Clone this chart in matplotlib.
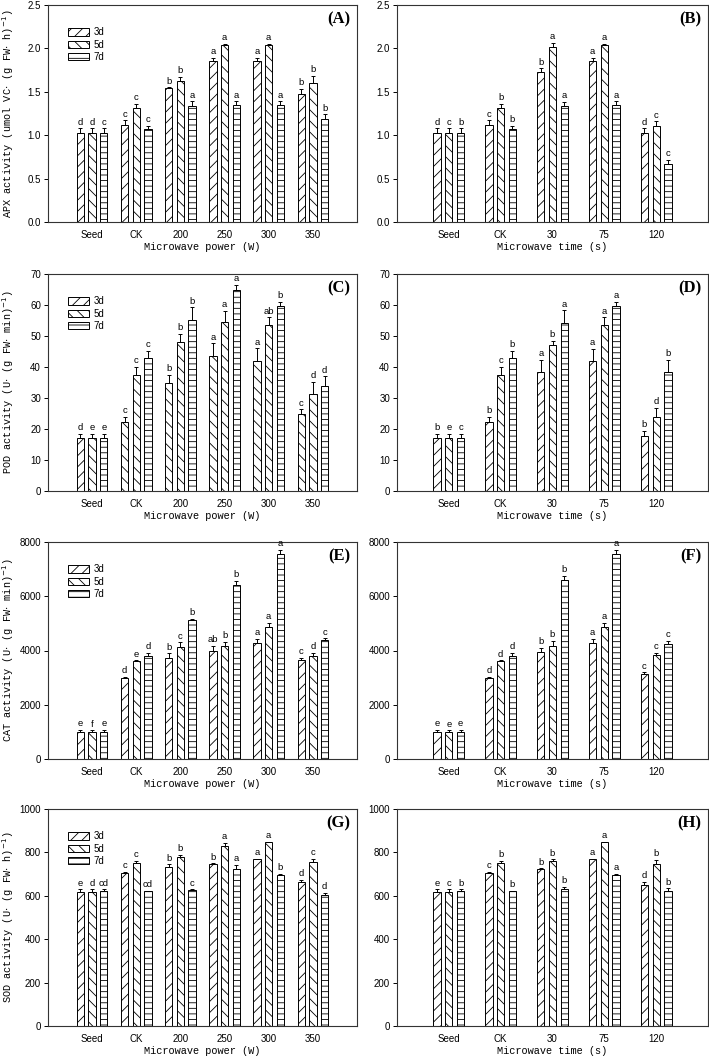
"""Antioxidant enzyme activity (APX, POD, CAT, SOD) after microwave treatment.

Left column: microwave power, right column: microwave time.
Bars are 3d / 5d / 7d after treatment, one-sided SE bars, letters = significance groups.
"""

import matplotlib
matplotlib.use("Agg")
import matplotlib.pyplot as plt
import numpy as np

plt.rcParams["hatch.linewidth"] = 0.6
plt.rcParams["font.family"] = ["Liberation Sans", "DejaVu Sans"]

days = ["3d", "5d", "7d"]
power_cats = ["Seed", "CK", "200", "250", "300", "350"]
time_cats = ["Seed", "CK", "30", "75", "120"]

# ---- APX -------------------------------------------------------------------
apx_power_mean = [[1.03, 1.12, 1.54, 1.85, 1.85, 1.48],
                  [1.03, 1.31, 1.62, 2.04, 2.04, 1.60],
                  [1.03, 1.07, 1.34, 1.35, 1.35, 1.19]]
apx_power_err = [[0.05, 0.05, 0.01, 0.04, 0.04, 0.05],
                 [0.05, 0.05, 0.05, 0.01, 0.01, 0.08],
                 [0.05, 0.04, 0.05, 0.04, 0.04, 0.05]]
apx_power_sig = [["d", "c", "b", "a", "a", "b"],
                 ["d", "c", "b", "a", "a", "b"],
                 ["c", "c", "a", "a", "a", "b"]]

apx_time_mean = [[1.03, 1.12, 1.73, 1.85, 1.02],
                 [1.03, 1.31, 2.02, 2.04, 1.11],
                 [1.03, 1.07, 1.34, 1.35, 0.67]]
apx_time_err = [[0.05, 0.05, 0.04, 0.04, 0.06],
                [0.05, 0.05, 0.04, 0.01, 0.05],
                [0.05, 0.04, 0.04, 0.04, 0.05]]
apx_time_sig = [["d", "c", "b", "a", "d"],
                ["c", "b", "a", "a", "c"],
                ["b", "b", "a", "a", "c"]]

# ---- POD -------------------------------------------------------------------
pod_power_mean = [[17.0, 22.3, 34.7, 43.6, 41.8, 25.0],
                  [17.0, 37.3, 48.0, 54.4, 53.4, 31.2],
                  [17.0, 42.8, 55.2, 65.0, 59.6, 33.8]]
pod_power_err = [[1.5, 1.5, 2.7, 4.0, 4.2, 1.3],
                 [1.5, 2.7, 2.7, 3.8, 2.6, 4.0],
                 [1.5, 2.5, 4.0, 1.5, 1.5, 3.2]]
pod_power_sig = [["d", "c", "b", "a", "a", "c"],
                 ["e", "c", "b", "a", "ab", "d"],
                 ["e", "c", "b", "a", "b", "d"]]

pod_time_mean = [[17.0, 22.3, 38.3, 41.8, 17.8],
                 [17.0, 37.3, 47.2, 53.4, 24.0],
                 [17.0, 42.8, 54.3, 59.6, 38.3]]
pod_time_err = [[1.5, 1.5, 4.0, 4.1, 1.5],
                [1.5, 2.7, 1.3, 2.6, 2.7],
                [1.5, 2.5, 4.0, 1.5, 4.0]]
pod_time_sig = [["b", "b", "a", "a", "b"],
                ["e", "c", "b", "a", "d"],
                ["c", "b", "a", "a", "b"]]

# ---- CAT -------------------------------------------------------------------
cat_power_mean = [[980, 3000, 3740, 4000, 4270, 3650],
                  [980, 3600, 4120, 4150, 4880, 3800],
                  [990, 3800, 5120, 6430, 7560, 4370]]
cat_power_err = [[100, 40, 150, 180, 150, 80],
                 [80, 40, 180, 180, 150, 100],
                 [80, 100, 40, 150, 150, 80]]
cat_power_sig = [["e", "d", "b", "ab", "a", "c"],
                 ["f", "e", "c", "b", "a", "d"],
                 ["e", "d", "b", "b", "a", "c"]]

cat_time_mean = [[980, 3000, 3940, 4270, 3150],
                 [980, 3600, 4180, 4880, 3820],
                 [990, 3800, 6600, 7560, 4230]]
cat_time_err = [[100, 40, 150, 150, 40],
                [80, 40, 180, 150, 100],
                [80, 100, 150, 150, 120]]
cat_time_sig = [["e", "d", "b", "a", "c"],
                ["e", "d", "b", "a", "c"],
                ["e", "d", "b", "a", "c"]]

# ---- SOD -------------------------------------------------------------------
sod_power_mean = [[618, 705, 733, 745, 768, 662],
                  [618, 750, 780, 828, 847, 755],
                  [620, 620, 625, 723, 697, 605]]
sod_power_err = [[12, 5, 12, 5, 2, 12],
                 [12, 12, 8, 15, 2, 15],
                 [10, 3, 5, 18, 5, 10]]
sod_power_sig = [["e", "c", "b", "b", "a", "d"],
                 ["d", "c", "b", "a", "a", "c"],
                 ["cd", "cd", "c", "a", "b", "d"]]

sod_time_mean = [[618, 705, 722, 768, 650],
                 [618, 750, 760, 847, 745],
                 [620, 620, 632, 697, 622]]
sod_time_err = [[12, 5, 4, 2, 15],
                [12, 12, 8, 2, 20],
                [10, 3, 8, 5, 12]]
sod_time_sig = [["e", "c", "b", "a", "d"],
                ["c", "b", "b", "a", "b"],
                ["b", "b", "b", "a", "b"]]

# ---- layout / style ----------------------------------------------------------
HATCHES = ["///", "\\\\\\", "---"]
MONO = ["Liberation Mono", "DejaVu Sans Mono"]
SERIF = ["Liberation Serif", "DejaVu Serif"]

FIG_W, FIG_H = 709, 1056
ROW_TOPS = [5, 274, 542, 809]
AX_H = 217
COLS = [(48, 309), (397, 311)]

panels = [
    # (row, col, tag, mean, err, sig, cats, ymax, ystep, yfmt, ylabel, xlabel)
    (0, 0, "(A)", apx_power_mean, apx_power_err, apx_power_sig, power_cats, 2.5, 0.5, "{:.1f}",
     r"APX activity (umol VC$\cdot$ (g FW$\cdot$ h)$^{-1}$)", "Microwave power (W)"),
    (0, 1, "(B)", apx_time_mean, apx_time_err, apx_time_sig, time_cats, 2.5, 0.5, "{:.1f}",
     None, "Microwave time (s)"),
    (1, 0, "(C)", pod_power_mean, pod_power_err, pod_power_sig, power_cats, 70, 10, "{:.0f}",
     r"POD activity (U$\cdot$ (g FW$\cdot$ min)$^{-1}$)", "Microwave power (W)"),
    (1, 1, "(D)", pod_time_mean, pod_time_err, pod_time_sig, time_cats, 70, 10, "{:.0f}",
     None, "Microwave time (s)"),
    (2, 0, "(E)", cat_power_mean, cat_power_err, cat_power_sig, power_cats, 8000, 2000, "{:.0f}",
     r"CAT activity (U$\cdot$ (g FW$\cdot$ min)$^{-1}$)", "Microwave power (W)"),
    (2, 1, "(F)", cat_time_mean, cat_time_err, cat_time_sig, time_cats, 8000, 2000, "{:.0f}",
     None, "Microwave time (s)"),
    (3, 0, "(G)", sod_power_mean, sod_power_err, sod_power_sig, power_cats, 1000, 200, "{:.0f}",
     r"SOD activity (U$\cdot$ (g FW$\cdot$ h)$^{-1}$)", "Microwave power (W)"),
    (3, 1, "(H)", sod_time_mean, sod_time_err, sod_time_sig, time_cats, 1000, 200, "{:.0f}",
     None, "Microwave time (s)"),
]

fig = plt.figure(figsize=(FIG_W / 100, FIG_H / 100), dpi=100)

for row, col, tag, mean, err, sig, cats, ymax, ystep, yfmt, ylabel, xlabel in panels:
    left, width = COLS[col]
    top = ROW_TOPS[row]
    ax = fig.add_axes([left / FIG_W, 1 - (top + AX_H) / FIG_H, width / FIG_W, AX_H / FIG_H])

    n = len(cats)
    xmax = n + 1
    px_per_unit = width / xmax
    bw = 7.3 / px_per_unit
    off = 11.7 / px_per_unit
    x = np.arange(1, n + 1)

    for i, day in enumerate(days):
        xs = x + (i - 1) * off
        bars = ax.bar(xs, mean[i], width=bw, color="white", edgecolor="black",
                      linewidth=0.7, hatch=HATCHES[i], label=day, zorder=2)
        # the original POD-power panel draws the 3d bars (except Seed) with back-slashes
        if tag == "(C)" and i == 0:
            for b in bars.patches[1:]:
                b.set_hatch(HATCHES[1])
        ax.errorbar(xs, mean[i], yerr=[np.zeros(n), err[i]], fmt="none", ecolor="black",
                    elinewidth=0.7, capsize=1.6, capthick=0.7, zorder=3)
        for xi, m, e, s in zip(xs, mean[i], err[i], sig[i]):
            ax.text(xi, m + e + ymax * 0.008, s, ha="center", va="bottom", fontsize=6.8)

    ax.set_xlim(0, xmax)
    ax.set_ylim(0, ymax)
    ax.set_xticks(x)
    ax.set_xticklabels(cats, fontsize=7)
    yt = np.arange(0, ymax + ystep / 2, ystep)
    ax.set_yticks(yt)
    ax.set_yticklabels([yfmt.format(v) for v in yt], fontsize=7)
    ax.tick_params(axis="x", length=0, pad=6)
    ax.tick_params(axis="y", length=3, width=0.7, direction="out", pad=2)
    for sp in ax.spines.values():
        sp.set_linewidth(0.8)
        sp.set_color("#333333")

    ax.set_xlabel(xlabel, fontsize=7.4, family=MONO)
    ax.xaxis.set_label_coords(0.5, -0.09)
    if ylabel:
        ax.set_ylabel(ylabel, fontsize=7.4, family=MONO)
        ax.yaxis.set_label_coords(-0.105, 0.5)

    ax.text(0.978, 0.935, tag, transform=ax.transAxes, ha="right", va="center",
            fontsize=12, fontweight="bold", family=SERIF)

    if col == 0:
        ax.legend(loc="upper left", bbox_to_anchor=(0.05, 0.92), frameon=False,
                  fontsize=7, handlelength=2.1, handleheight=0.8, labelspacing=0.25,
                  handletextpad=0.5, borderpad=0)

fig.savefig("out.png", dpi=100)
plt.close(fig)
